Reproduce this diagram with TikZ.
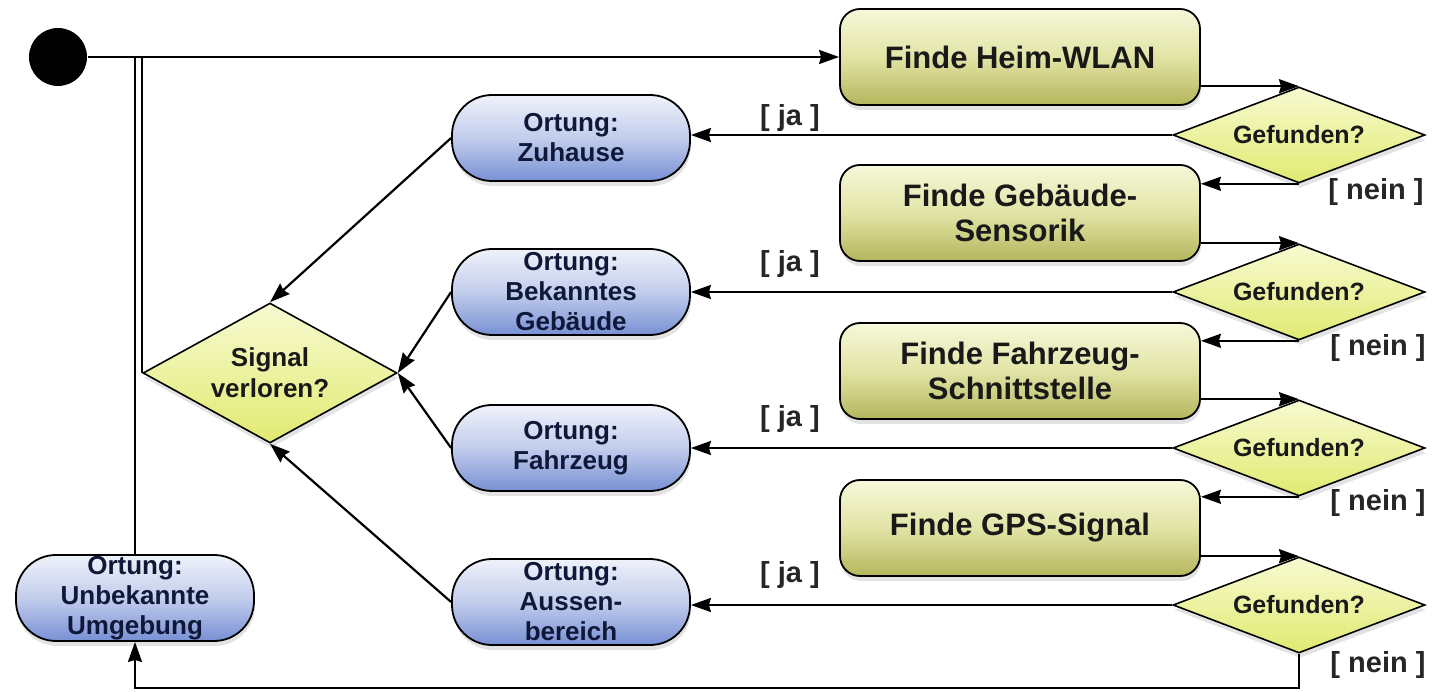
\documentclass[tikz,border=0pt]{standalone}
\usepackage{fontspec}
\setmainfont{Liberation Sans}
\usetikzlibrary{shapes}
\usetikzlibrary{arrows.meta}
\usetikzlibrary{shadows}
\definecolor{findtop}{HTML}{F6F8DA}
\definecolor{findmid}{HTML}{E2E4A6}
\definecolor{findbot}{HTML}{B4B65C}
\definecolor{loctop}{HTML}{EFF2FA}
\definecolor{locmid}{HTML}{C2CDEC}
\definecolor{locbot}{HTML}{7890D4}
\definecolor{loctext}{HTML}{0F1838}
\definecolor{dectop}{HTML}{F8FAD2}
\definecolor{decbot}{HTML}{E0EA70}
\tikzset{
	basenode/.style = {
		align=center,
		inner sep=0pt,
		draw=black,
		line width=1.8pt,
		drop shadow={shadow xshift=1pt, shadow yshift=-5pt, opacity=0.22}
	},
	node_start/.style = {
		circle,
		fill=black,
		inner sep=0pt,
		minimum size=58pt
	},
	node_find/.style = {
		basenode,
		rectangle,
		rounded corners=20pt,
		top color=findtop,
		bottom color=findbot,
		middle color=findmid,
		minimum width=360pt,
		minimum height=96pt,
		text=black!90,
		font=\bfseries\fontsize{31}{35}\selectfont
	},
	node_loc/.style = {
		basenode,
		rectangle,
		rounded corners=40pt,
		top color=loctop,
		bottom color=locbot,
		middle color=locmid,
		minimum width=238pt,
		minimum height=86pt,
		text=loctext,
		font=\bfseries\fontsize{26}{30}\selectfont
	},
	node_dec/.style = {
		basenode,
		diamond,
		line width=1.6pt,
		top color=dectop,
		bottom color=decbot,
		text=black!90
	},
	node_lost/.style = {
		node_dec,
		aspect=1.8,
		minimum width=254pt,
		minimum height=140pt,
		font=\bfseries\fontsize{26}{31}\selectfont
	},
	node_found/.style = {
		node_dec,
		aspect=2.6,
		minimum width=252pt,
		minimum height=96pt,
		font=\bfseries\fontsize{25}{30}\selectfont
	},
	node_guard/.style = {
		inner sep=0pt,
		text=black!85,
		font=\bfseries\fontsize{29}{29}\selectfont
	},
}

\begin{document}
\begin{tikzpicture}[x=1pt, y=-1pt, ->, >={Stealth[length=20pt,width=14pt,inset=2pt]}, line width=2.2pt]
\useasboundingbox (0,0) rectangle (1433,692);

\node [node_start] (start) at (58,57) {};

\node [node_find] (find1) at (1020,57) {Finde Heim-WLAN};
\node [node_find] (find2) at (1020,213) {Finde Gebäude-\\Sensorik};
\node [node_find] (find3) at (1020,371) {Finde Fahrzeug-\\Schnittstelle};
\node [node_find] (find4) at (1020,528) {Finde GPS-Signal};

\node [node_found] (found1) at (1299,135) {Gefunden?};
\node [node_found] (found2) at (1299,292) {Gefunden?};
\node [node_found] (found3) at (1299,448) {Gefunden?};
\node [node_found] (found4) at (1299,605) {Gefunden?};

\node [node_loc] (loc1) at (571,138) {Ortung:\\Zuhause};
\node [node_loc] (loc2) at (571,292) {Ortung:\\Bekanntes\\Gebäude};
\node [node_loc] (loc3) at (571,448) {Ortung:\\Fahrzeug};
\node [node_loc] (loc4) at (571,602) {Ortung:\\Aussen-\\bereich};
\node [node_loc] (unknown) at (135,598) {Ortung:\\Unbekannte\\Umgebung};

\node [node_lost] (lost) at (270,373) {Signal\\verloren?};

\node [node_guard] (ja1) at (790,118) {[ ja ]};
\node [node_guard] (ja2) at (790,264) {[ ja ]};
\node [node_guard] (ja3) at (790,419) {[ ja ]};
\node [node_guard] (ja4) at (790,575) {[ ja ]};
\node [node_guard] (nein1) at (1376,192) {[ nein ]};
\node [node_guard] (nein2) at (1378,348) {[ nein ]};
\node [node_guard] (nein3) at (1378,503) {[ nein ]};
\node [node_guard] (nein4) at (1378,665) {[ nein ]};

\draw (start) -- (find1);
\draw [-] (lost.west) -- (lost.west |- start);
\draw [-] (unknown.north) -- (unknown.north |- start);

\foreach \i in {1,...,4} {
	\draw (find\i.east |- found\i.north) -- (found\i.north);
	\draw (found\i.west) -- (found\i.west -| loc\i.east);
}
\foreach \i/\j in {1/2,2/3,3/4} {
	\draw (found\i.south) -- (found\i.south -| find\j.east);
}

\coordinate (back) at (1299,688);
\draw (found4.south) -- (back) -| (unknown.south);

\draw (loc1.west) -- (lost.north);
\draw (loc2.west) -- (lost.east);
\draw (loc3.west) -- (lost.east);
\draw (loc4.west) -- (lost.south);
\end{tikzpicture}
\end{document}
